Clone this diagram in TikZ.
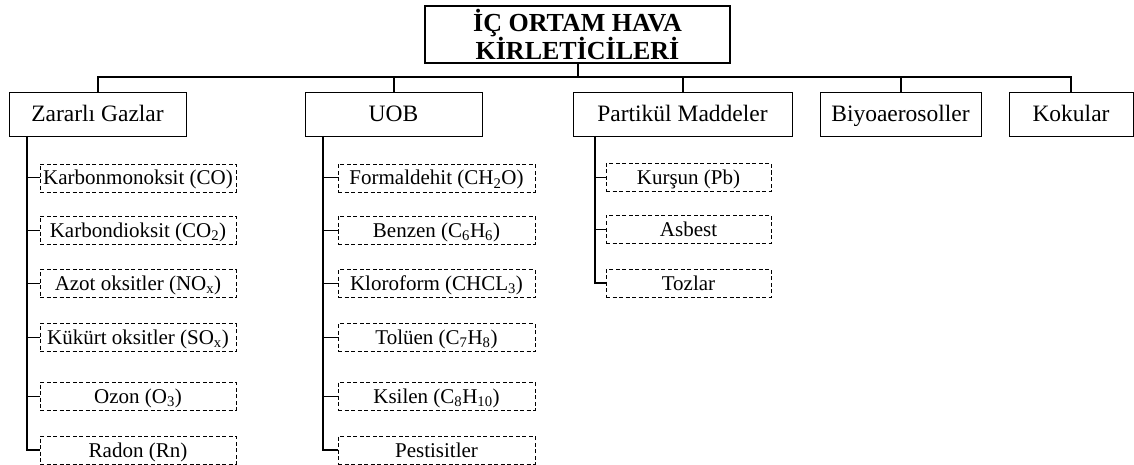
\documentclass[tikz,border=0pt]{standalone}
\usepackage{fontspec}
\setmainfont{Liberation Serif}
\begin{document}
\begin{tikzpicture}[x=1pt,y=-1pt,
  titlebox/.style={draw,line width=2pt,inner sep=0pt,minimum width=305pt,minimum height=57pt,
    align=center,font=\fontsize{26}{28}\selectfont\bfseries},
  catbox/.style={draw,line width=0.9pt,inner sep=0pt,minimum height=44pt,
    text height=18pt,text depth=2.6pt,font=\fontsize{23.5}{26}\selectfont},
  itembox/.style={draw,line width=0.8pt,dash pattern=on 4pt off 2.5pt,inner sep=0pt,
    minimum height=28pt,text height=16pt,text depth=2pt,font=\fontsize{21}{24}\selectfont},
  bus/.style={line width=2pt,line join=miter},
  tree/.style={line width=1.5pt,line join=miter},
  tick/.style={line width=1pt}]
\useasboundingbox (0,0) rectangle (1134,465);

% root
\node[titlebox] (root) at (577.5,34.5) {İÇ ORTAM HAVA\\KİRLETİCİLERİ};
\coordinate (bus) at (577.5,77);

% categories
\node[catbox,minimum width=177pt] (zg)  at (97.5,114)  {Zararlı Gazlar};
\node[catbox,minimum width=177pt] (uob) at (393.5,114) {UOB};
\node[catbox,minimum width=219pt] (pm)  at (682.5,114) {Partikül Maddeler};
\node[catbox,minimum width=161pt] (bio) at (900.5,114) {Biyoaerosoller};
\node[catbox,minimum width=124pt] (kok) at (1071,114)  {Kokular};

% connections from the root
\draw[bus] (root.south) -- (bus);
\draw[bus] (zg.north) -- (zg.north |- bus) -- (kok.north |- bus) -- (kok.north);
\foreach \n in {uob,pm,bio} \draw[bus] (\n.north) -- (\n.north |- bus);

% harmful gases
\foreach \i/\yy/\t in {1/178/{Karbonmonoksit (CO)},
                      2/230/{Karbondioksit (CO\textsubscript{2})},
                      3/283.5/{Azot oksitler (NO\textsubscript{x})},
                      4/337.5/{Kükürt oksitler (SO\textsubscript{x})},
                      5/396/{Ozon (O\textsubscript{3})},
                      6/450/{Radon (Rn)}}
  \node[itembox,minimum width=196pt] (z\i) at (138,\yy) {\t};

% volatile organic compounds
\foreach \i/\yy/\t in {1/178/{Formaldehit (CH\textsubscript{2}O)},
                      2/230/{Benzen (C\textsubscript{6}H\textsubscript{6})},
                      3/283.5/{Kloroform (CHCL\textsubscript{3})},
                      4/337.5/{Tolüen (C\textsubscript{7}H\textsubscript{8})},
                      5/396/{Ksilen (C\textsubscript{8}H\textsubscript{10})},
                      6/450/{Pestisitler}}
  \node[itembox,minimum width=197pt] (u\i) at (436.5,\yy) {\t};

% particulate matter
\foreach \i/\yy/\t in {1/177.5/{Kurşun (Pb)},
                      2/229/{Asbest},
                      3/283/{Tozlar}}
  \node[itembox,minimum width=165pt] (p\i) at (688.5,\yy) {\t};

% tree lines
\coordinate (zt) at (27,136);
\coordinate (ut) at (323,136);
\coordinate (pt) at (595,136);
\draw[tree] (zt) |- (z6.west);
\draw[tree] (ut) |- (u6.west);
\draw[tree] (pt) |- (p3.west);
\foreach \i in {1,...,5} {
  \draw[tick] (zt |- z\i.west) -- (z\i.west);
  \draw[tick] (ut |- u\i.west) -- (u\i.west);
}
\foreach \i in {1,2} \draw[tick] (pt |- p\i.west) -- (p\i.west);
\end{tikzpicture}
\end{document}
